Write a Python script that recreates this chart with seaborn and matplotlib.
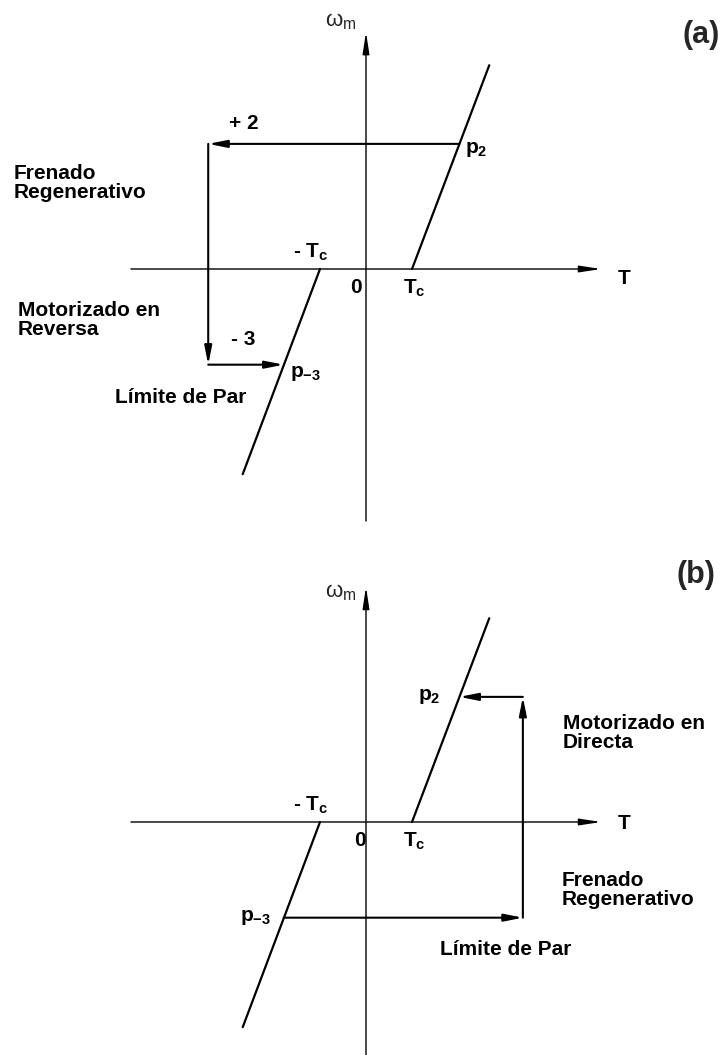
import matplotlib
matplotlib.use("Agg")
import matplotlib.pyplot as plt
import seaborn as sns

# ---- Torque-speed plane data (torque in units of T_c, speed in the same scale) ----
char_pos_T = [1.0, 2.68]      # characteristic through +T_c
char_pos_w = [0.0, 4.43]
char_neg_T = [-1.0, -2.68]    # characteristic through -T_c
char_neg_w = [0.0, -4.46]
p2 = [2.03, 2.72]             # operating point p2
p_m3 = [-1.79, -2.08]         # operating point p-3
torque_limit = {"a": -3.43, "b": 3.41}
T_axis = [-5.11, 5.11]
w_axis = {"a": [-5.48, 5.15], "b": [-5.10, 5.11]}

# ---- Layout (pixels) ----
W, H, DPI = 721, 1055, 100
PX = 46.0                     # pixels per unit on both axes
ORIGIN_X = 366
PANELS = {"a": (0, 527, 269), "b": (527, 1055, 822)}   # top, bottom, axis row

sns.set_theme(style="white")
plt.rcParams["font.family"] = ["Liberation Sans", "DejaVu Sans"]
plt.rcParams["mathtext.fontset"] = "custom"
plt.rcParams["mathtext.rm"] = "Liberation Sans"
plt.rcParams["mathtext.bf"] = "Liberation Sans:bold"
plt.rcParams["mathtext.it"] = "Liberation Sans:italic"
plt.rcParams["mathtext.default"] = "regular"

fig = plt.figure(figsize=(W / DPI, H / DPI), dpi=DPI)
fig.patch.set_facecolor("white")

LBL = dict(fontsize=15, fontweight="bold", color="black")
HEAD_AX = "-|>,head_length=1.3,head_width=0.2"
HEAD_TR = "-|>,head_length=1.1,head_width=0.22"


def arrow(ax, start, end, style, lw):
    ax.annotate("", xy=end, xytext=start,
                arrowprops=dict(arrowstyle=style, color="black", lw=lw,
                                shrinkA=0, shrinkB=0, mutation_scale=10))


def panel(key):
    top, bottom, row = PANELS[key]
    ax = fig.add_axes([0, (H - bottom) / H, 1, (bottom - top) / H])
    ax.set_xlim(-ORIGIN_X / PX, (W - ORIGIN_X) / PX)
    ax.set_ylim(-(bottom - row) / PX, (row - top) / PX)
    ax.set_axis_off()

    # coordinate axes
    arrow(ax, (T_axis[0], 0), (T_axis[1], 0), HEAD_AX, 1.0)
    arrow(ax, (0, w_axis[key][0]), (0, w_axis[key][1]), HEAD_AX, 1.0)

    # torque-speed characteristics
    sns.lineplot(x=char_pos_T, y=char_pos_w, ax=ax, color="black", lw=1.6,
                 sort=False, estimator=None)
    sns.lineplot(x=char_neg_T, y=char_neg_w, ax=ax, color="black", lw=1.6,
                 sort=False, estimator=None)

    lim = torque_limit[key]
    if key == "a":
        path = [tuple(p2), (lim, p2[1]), (lim, p_m3[1]), tuple(p_m3)]
    else:
        path = [tuple(p_m3), (lim, p_m3[1]), (lim, p2[1]), tuple(p2)]
    for s, e in zip(path[:-1], path[1:]):
        arrow(ax, s, e, HEAD_TR, 1.5)

    ax.text(-0.55, w_axis[key][1] + (0.22 if key == "a" else -0.13),
            r"$\omega_m$", fontsize=16, ha="center", va="center")
    ax.text(T_axis[1] + 0.5, -0.2 if key == "a" else -0.04, "T",
            ha="center", va="center", **LBL)
    ax.text(-0.13 if key == "b" else -0.22, -0.4, "0", ha="center", va="center", **LBL)
    ax.text(char_pos_T[0] + 0.05, -0.42, r"T$_c$", ha="center", va="center", **LBL)
    ax.text(char_neg_T[0] - 0.2, 0.36, r"- T$_c$", ha="center", va="center", **LBL)
    return ax


ax_a = panel("a")
ax_a.text(7.28, 5.09, "(a)", fontsize=22, fontweight="bold", ha="center", va="center")
ax_a.text(p2[0] + 0.12, p2[1] - 0.12, r"p$_2$", ha="left", va="center", **LBL)
ax_a.text(p_m3[0] + 0.14, p_m3[1] - 0.2, r"p$_{-3}$", ha="left", va="center", **LBL)
ax_a.text(-2.65, 3.17, "+ 2", ha="center", va="center", **LBL)
ax_a.text(-2.67, -1.54, "- 3", ha="center", va="center", **LBL)
ax_a.text(-7.65, 1.88, "Frenado\nRegenerativo", ha="left", va="center",
          linespacing=1.0, **LBL)
ax_a.text(-7.57, -1.11, "Motorizado en\nReversa", ha="left", va="center",
          linespacing=1.0, **LBL)
ax_a.text(-5.46, -2.80, "Límite de Par", ha="left", va="center", **LBL)

ax_b = panel("b")
ax_b.text(7.17, 5.37, "(b)", fontsize=22, fontweight="bold", ha="center", va="center")
ax_b.text(1.13, p2[1], r"p$_2$", ha="left", va="center", **LBL)
ax_b.text(-2.74, p_m3[1], r"p$_{-3}$", ha="left", va="center", **LBL)
ax_b.text(4.28, 1.93, "Motorizado en\nDirecta", ha="left", va="center",
          linespacing=1.0, **LBL)
ax_b.text(4.26, -1.48, "Frenado\nRegenerativo", ha="left", va="center",
          linespacing=1.0, **LBL)
ax_b.text(1.61, -2.78, "Límite de Par", ha="left", va="center", **LBL)

fig.savefig("out.png", dpi=DPI, facecolor="white")
